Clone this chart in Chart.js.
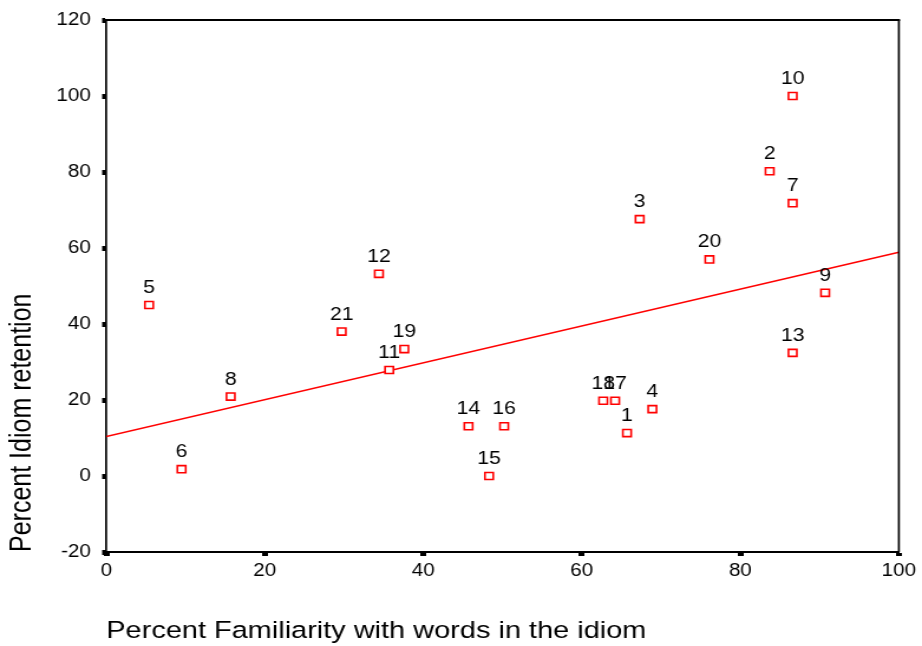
<!DOCTYPE html>
<html>
<head>
<meta charset="utf-8">
<title>Idiom retention vs. familiarity</title>
<script src="https://cdn.jsdelivr.net/npm/chart.js@4/dist/chart.umd.min.js"></script>
<style>
  html, body { margin: 0; padding: 0; background: #ffffff; }
  #wrap { width: 922px; height: 646px; overflow: hidden; }
  /* the drawing surface is a little narrower than its box, so the plot is widened on screen */
  #chart { width: 922px; height: 646px; display: block; }
</style>
</head>
<body>
<div id="wrap"><canvas id="chart" width="781" height="646" style="width:922px;height:646px"></canvas></div>
<script>
// Case numbers and their measurements
const caseIds = [1, 2, 3, 4, 5, 6, 7, 8, 9, 10, 11, 12, 13, 14, 15, 16, 17, 18, 19, 20, 21];
const familiarity = [65.7, 83.7, 67.3, 68.9, 5.4, 9.5, 86.6, 15.7, 90.7, 86.6, 35.7, 34.4, 86.6, 45.7, 48.3, 50.2, 64.2, 62.7, 37.6, 76.1, 29.7];
const retention   = [11.3, 80.2, 67.6, 17.6, 45.0, 1.8, 71.8, 20.9, 48.2, 100.0, 27.9, 53.2, 32.4, 13.1, 0.0, 13.1, 19.8, 19.8, 33.4, 57.0, 38.0];

// Fitted line, given by its ends at the axis limits
const fitX = [0, 100];
const fitY = [10.4, 58.9];

// Axis tick settings
const xTicks = { min: 0, max: 100, step: 20 };
const yTicks = { min: -20, max: 120, step: 20 };

const FONT = '"Liberation Sans", Arial, Helvetica, sans-serif';

const points = familiarity.map((x, i) => ({ x: x, y: retention[i] }));
const fitPoints = fitX.map((x, i) => ({ x: x, y: fitY[i] }));

// Case number written above each marker
const caseLabels = {
  id: 'caseLabels',
  afterDatasetsDraw(chart) {
    const meta = chart.getDatasetMeta(0);
    const ctx = chart.ctx;
    ctx.save();
    ctx.font = '18px ' + FONT;
    ctx.fillStyle = '#000000';
    ctx.textAlign = 'center';
    ctx.textBaseline = 'alphabetic';
    meta.data.forEach((pt, i) => {
      ctx.fillText(String(caseIds[i]), pt.x, pt.y - 12);
    });
    ctx.restore();
  }
};

// Closes the plot box on the top and right sides
const frame = {
  id: 'frame',
  afterDraw(chart) {
    const a = chart.chartArea;
    const ctx = chart.ctx;
    ctx.save();
    ctx.strokeStyle = '#000000';
    ctx.lineWidth = 2;
    ctx.beginPath();
    ctx.moveTo(a.left, a.top);
    ctx.lineTo(a.right + 1, a.top);
    ctx.stroke();
    ctx.lineWidth = 1.7;
    ctx.beginPath();
    ctx.moveTo(a.right, a.top);
    ctx.lineTo(a.right, a.bottom);
    ctx.stroke();
    ctx.restore();
  }
};

new Chart(document.getElementById('chart'), {
  type: 'scatter',
  data: {
    datasets: [
      {
        label: 'Cases',
        data: points,
        pointStyle: 'rect',
        pointRadius: 5,
        pointHoverRadius: 5,
        pointBorderColor: '#ff0000',
        pointBackgroundColor: '#ffffff',
        pointBorderWidth: 1.6,
        showLine: false,
        order: 1
      },
      {
        label: 'Fit',
        type: 'line',
        data: fitPoints,
        borderColor: '#ff0000',
        borderWidth: 1.5,
        pointRadius: 0,
        fill: false,
        order: 2
      }
    ]
  },
  options: {
    responsive: false,
    animation: false,
    layout: { padding: { top: 18, right: 16.6, bottom: 0, left: 0 } },
    plugins: {
      legend: { display: false },
      tooltip: { enabled: false }
    },
    scales: {
      x: {
        type: 'linear',
        min: xTicks.min,
        max: xTicks.max,
        afterFit(scale) { scale.height = 94; },
        ticks: {
          stepSize: xTicks.step,
          color: '#000000',
          font: { family: FONT, size: 17.5 },
          padding: 5,
          maxRotation: 0
        },
        grid: {
          drawOnChartArea: false,
          drawTicks: true,
          tickLength: 4,
          tickWidth: 5,
          tickColor: '#000000'
        },
        border: { display: true, color: '#000000', width: 2 },
        title: {
          display: true,
          text: 'Percent Familiarity with words in the idiom',
          align: 'start',
          color: '#000000',
          font: { family: FONT, size: 24.5 },
          padding: { top: 1, bottom: 0 }
        }
      },
      y: {
        type: 'linear',
        min: yTicks.min,
        max: yTicks.max,
        afterFit(scale) { scale.width = 90; },
        ticks: {
          stepSize: yTicks.step,
          color: '#000000',
          font: { family: FONT, size: 17.5 },
          padding: 9.5
        },
        grid: {
          drawOnChartArea: false,
          drawTicks: true,
          tickLength: 3.5,
          tickWidth: 5,
          tickColor: '#000000'
        },
        border: { display: true, color: '#000000', width: 1.7 },
        title: {
          display: true,
          text: 'Percent Idiom retention',
          align: 'start',
          color: '#000000',
          font: { family: FONT, size: 25 },
          padding: { top: 4, bottom: 0 }
        }
      }
    }
  },
  plugins: [caseLabels, frame]
});
</script>
</body>
</html>
